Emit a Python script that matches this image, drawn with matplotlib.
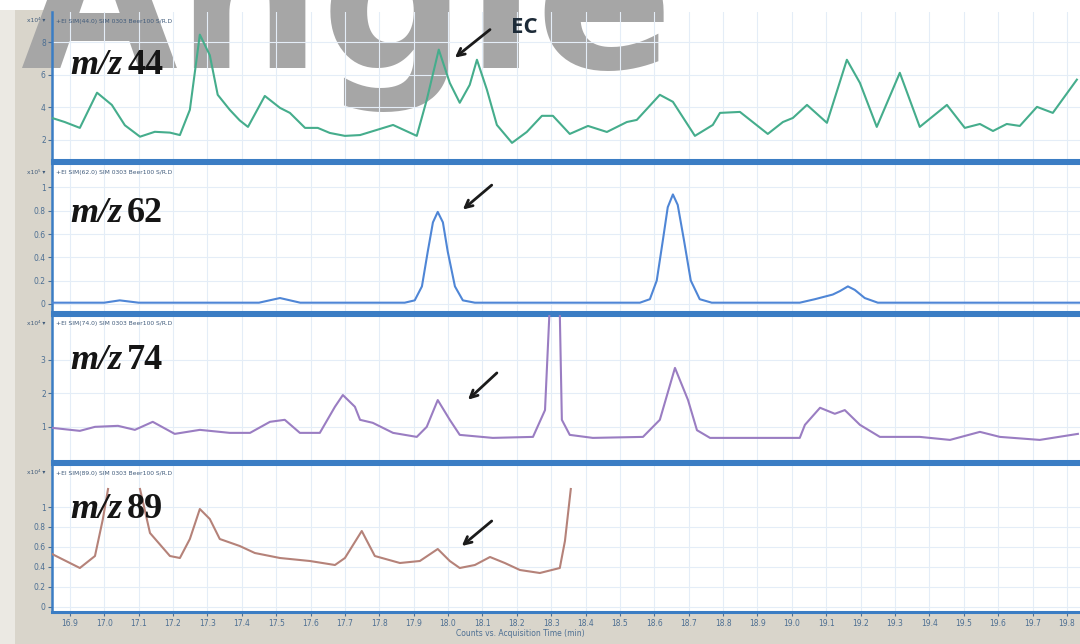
import matplotlib
matplotlib.use("Agg")
import matplotlib.pyplot as plt
from matplotlib.patches import Rectangle

# retention time (min) and counts for each SIM trace
t44 = [16.848, 16.885, 16.929, 16.979, 17.022, 17.060, 17.104, 17.147, 17.191,
       17.220, 17.249, 17.278, 17.307, 17.330, 17.365, 17.394, 17.418, 17.467,
       17.511, 17.540, 17.584, 17.621, 17.656, 17.700, 17.744, 17.840, 17.909,
       17.938, 17.973, 18.005, 18.034, 18.063, 18.084, 18.113, 18.142, 18.186,
       18.229, 18.273, 18.305, 18.354, 18.407, 18.462, 18.520, 18.549, 18.616,
       18.654, 18.718, 18.770, 18.791, 18.849, 18.930, 18.974, 19.003, 19.044,
       19.102, 19.160, 19.198, 19.247, 19.314, 19.372, 19.451, 19.503, 19.547,
       19.585, 19.625, 19.663, 19.713, 19.759, 19.829]
v44 = [3.35, 3.1, 2.74, 4.9, 4.15, 2.9, 2.2, 2.5, 2.45,
       2.3, 3.85, 8.46, 7.2, 4.77, 3.85, 3.2, 2.8, 4.7,
       3.97, 3.66, 2.74, 2.74, 2.43, 2.25, 2.3, 2.92, 2.25,
       4.46, 7.54, 5.5, 4.28, 5.38, 6.92, 5.08, 2.92, 1.82,
       2.49, 3.48, 3.48, 2.37, 2.86, 2.49, 3.1, 3.23, 4.77,
       4.34, 2.25, 2.92, 3.66, 3.72, 2.37, 3.1, 3.35, 4.15,
       3.05, 6.92, 5.5, 2.8, 6.12, 2.8, 4.15, 2.74, 2.98,
       2.55, 2.98, 2.86, 4.03, 3.66, 5.7]

t62 = [16.848, 17.000, 17.045, 17.100, 17.450, 17.511, 17.570, 17.874, 17.903,
       17.924, 17.941, 17.956, 17.970, 17.985, 17.999, 18.020, 18.043, 18.078,
       18.558, 18.587, 18.607, 18.625, 18.639, 18.654, 18.668, 18.686, 18.706,
       18.732, 18.767, 19.023, 19.067, 19.119, 19.140, 19.163, 19.183, 19.212,
       19.250, 19.838]
v62 = [0.01, 0.01, 0.03, 0.01, 0.01, 0.05, 0.01, 0.01, 0.03,
       0.15, 0.45, 0.70, 0.79, 0.70, 0.45, 0.15, 0.03, 0.01,
       0.01, 0.04, 0.20, 0.55, 0.83, 0.94, 0.85, 0.55, 0.20,
       0.04, 0.01, 0.01, 0.04, 0.08, 0.11, 0.15, 0.12, 0.05,
       0.01, 0.01]

t74 = [16.848, 16.929, 16.973, 17.040, 17.089, 17.141, 17.205, 17.278, 17.365,
       17.424, 17.482, 17.525, 17.569, 17.627, 17.671, 17.694, 17.729, 17.744,
       17.781, 17.840, 17.909, 17.938, 17.970, 18.005, 18.034, 18.130, 18.247,
       18.282, 18.302, 18.322, 18.331, 18.354, 18.421, 18.567, 18.616, 18.660,
       18.698, 18.724, 18.762, 18.907, 19.023, 19.038, 19.082, 19.125, 19.154,
       19.198, 19.256, 19.372, 19.460, 19.547, 19.605, 19.721, 19.832]
v74 = [0.97, 0.88, 1.0, 1.03, 0.91, 1.15, 0.79, 0.91, 0.82,
       0.82, 1.15, 1.21, 0.82, 0.82, 1.6, 1.95, 1.6, 1.21,
       1.12, 0.82, 0.70, 1.0, 1.8, 1.21, 0.76, 0.67, 0.70,
       1.5, 6.0, 6.0, 1.21, 0.76, 0.67, 0.70, 1.21, 2.76,
       1.8, 0.9, 0.67, 0.67, 0.67, 1.06, 1.57, 1.39, 1.5,
       1.06, 0.70, 0.70, 0.61, 0.85, 0.70, 0.61, 0.79]

# the trace is not visible in the screenshot between 17.01 and 17.10 min
t89 = [16.848, 16.929, 16.973, 16.996, 17.011, 17.060, 17.104, 17.133,
       17.191, 17.220, 17.249, 17.278, 17.307, 17.336, 17.394, 17.438, 17.511,
       17.598, 17.671, 17.700, 17.749, 17.787, 17.860, 17.918, 17.970, 18.005,
       18.034, 18.078, 18.122, 18.165, 18.209, 18.267, 18.325, 18.340, 18.357]
v89 = [0.53, 0.39, 0.51, 0.88, 1.18, float("nan"), 1.18, 0.74,
       0.51, 0.49, 0.68, 0.98, 0.88, 0.68, 0.61, 0.54, 0.49,
       0.46, 0.42, 0.49, 0.76, 0.51, 0.44, 0.46, 0.58, 0.46,
       0.39, 0.42, 0.50, 0.44, 0.37, 0.34, 0.39, 0.66, 1.18]

x_ticks = [16.9, 17.0, 17.1, 17.2, 17.3, 17.4, 17.5, 17.6, 17.7, 17.8, 17.9,
           18.0, 18.1, 18.2, 18.3, 18.4, 18.5, 18.6, 18.7, 18.8, 18.9, 19.0,
           19.1, 19.2, 19.3, 19.4, 19.5, 19.6, 19.7, 19.8]

# arrow tip/tail (time, counts) per panel
arrows = [((18.020, 7.05), (18.122, 8.77)),
          ((18.043, 0.81), (18.127, 1.02)),
          ((18.058, 1.81), (18.142, 2.61)),
          ((18.040, 0.61), (18.127, 0.86))]

panels = [
    # (times, values, mass, colour, ylim, yticks, scale, (top px, bottom px))
    (t44, v44, "44", "#45ad8c", (0.77, 9.85), [2, 4, 6, 8], "x10⁴", (12, 160)),
    (t62, v62, "62", "#4f86d6", (-0.07, 1.21), [0, 0.2, 0.4, 0.6, 0.8, 1], "x10⁵", (163, 312)),
    (t74, v74, "74", "#9a7dc2", (-0.02, 4.34), [1, 2, 3], "x10⁴", (315, 461)),
    (t89, v89, "89", "#b58279", (-0.05, 1.43), [0, 0.2, 0.4, 0.6, 0.8, 1], "x10⁴", (464, 612)),
]

W, H = 1080, 644
FRAME = "#3b7dc4"
TICKC = "#4d6f93"
XMIN = 16.848
XMAX = 16.848 + 1028 / 343.8

fig = plt.figure(figsize=(W / 100, H / 100), dpi=100, facecolor="#ffffff")
# grey window chrome on the left and at the bottom of the screenshot
fig.patches.append(Rectangle((15 / W, 0), 37 / W, 1 - 10 / H, transform=fig.transFigure,
                             facecolor="#d9d5cb", edgecolor="none", zorder=-2))
fig.patches.append(Rectangle((0, 0), 15 / W, 1 - 10 / H, transform=fig.transFigure,
                             facecolor="#ebe9e3", edgecolor="none", zorder=-2))
fig.patches.append(Rectangle((15 / W, 0), 1, 32 / H, transform=fig.transFigure,
                             facecolor="#d9d5cb", edgecolor="none", zorder=-2))

# greyed watermark lettering at the top of the screenshot, under the first trace
wm = fig.add_axes([0, 0, 1, 1], zorder=0.5)
wm.set_axis_off()
wm.set_xlim(0, W)
wm.set_ylim(0, H)
wm.text(20, H - 68, "Angle", fontsize=146, weight="bold", color="#a6a6a6",
        va="baseline", ha="left", clip_on=False)

axes = []
for i, (t, v, mass, color, ylim, yticks, scale, (top, bot)) in enumerate(panels):
    ax = fig.add_axes([52 / W, 1 - bot / H, 1 - 52 / W, (bot - top) / H])
    if i == 0:
        ax.set_zorder(1)
        ax.patch.set_visible(False)
    ax.plot(t, v, color=color, lw=1.5, zorder=3, solid_joinstyle="round")
    ax.set_xlim(XMIN, XMAX)
    ax.set_ylim(*ylim)
    ax.set_xticks(x_ticks)
    ax.set_yticks(yticks)
    ax.set_yticklabels([f"{y:g}" for y in yticks])
    ax.grid(True, color="#e4edf7", lw=0.8)
    ax.tick_params(axis="y", labelsize=5.5, colors=TICKC, length=3, width=0.8, pad=1.5)
    ax.tick_params(axis="x", labelsize=5.5, colors=TICKC, length=3, width=0.8, pad=2)
    if i < 3:
        ax.tick_params(axis="x", labelbottom=False, length=0)
    for side in ("left", "top", "bottom"):
        ax.spines[side].set_color(FRAME)
        ax.spines[side].set_linewidth(2.2)
    ax.spines["left"].set_linewidth(1.8)
    ax.spines["right"].set_visible(False)
    if i == 0:
        ax.spines["top"].set_visible(False)

    ax.text(0.004, 1 - 9 / (bot - top), f"+EI SIM({mass}.0) SIM 0303 Beer100 S/R.D",
            transform=ax.transAxes, fontsize=4.3, color="#3f5a7a", va="center", zorder=6)
    ax.text(-0.006, 1 - 9 / (bot - top), scale + " ▾", transform=ax.transAxes,
            fontsize=4.3, color="#3f5a7a", va="center", ha="right", clip_on=False)

    ly = {0: 0.64, 1: 0.66, 2: 0.69, 3: 0.69}[i]
    ax.text(0.0175, ly, "m/z", transform=ax.transAxes, fontsize=26,
            family="Liberation Serif", style="italic", weight="bold",
            color="#151515", va="center", zorder=6)
    ax.text(0.073, ly, mass, transform=ax.transAxes, fontsize=26,
            family="Liberation Serif", weight="bold", color="#151515",
            va="center", zorder=6)

    tip, tail = arrows[i]
    ax.annotate("", xy=tip, xytext=tail, zorder=7,
                arrowprops=dict(arrowstyle="->", color="#1b1b1b", lw=2.0,
                                mutation_scale=13, shrinkA=0, shrinkB=0))
    axes.append(ax)

axes[0].text(18.223, 8.89, "EC", fontsize=16, weight="bold", family="Open Sans",
             color="#1d2b38", ha="center", va="center", zorder=7, clip_on=False)

fig.text(520 / W, 1 - 634 / H, "Counts vs. Acquisition Time (min)",
         fontsize=5.5, color=TICKC, ha="center", va="center")

fig.savefig("out.png", dpi=100, facecolor=fig.get_facecolor())
